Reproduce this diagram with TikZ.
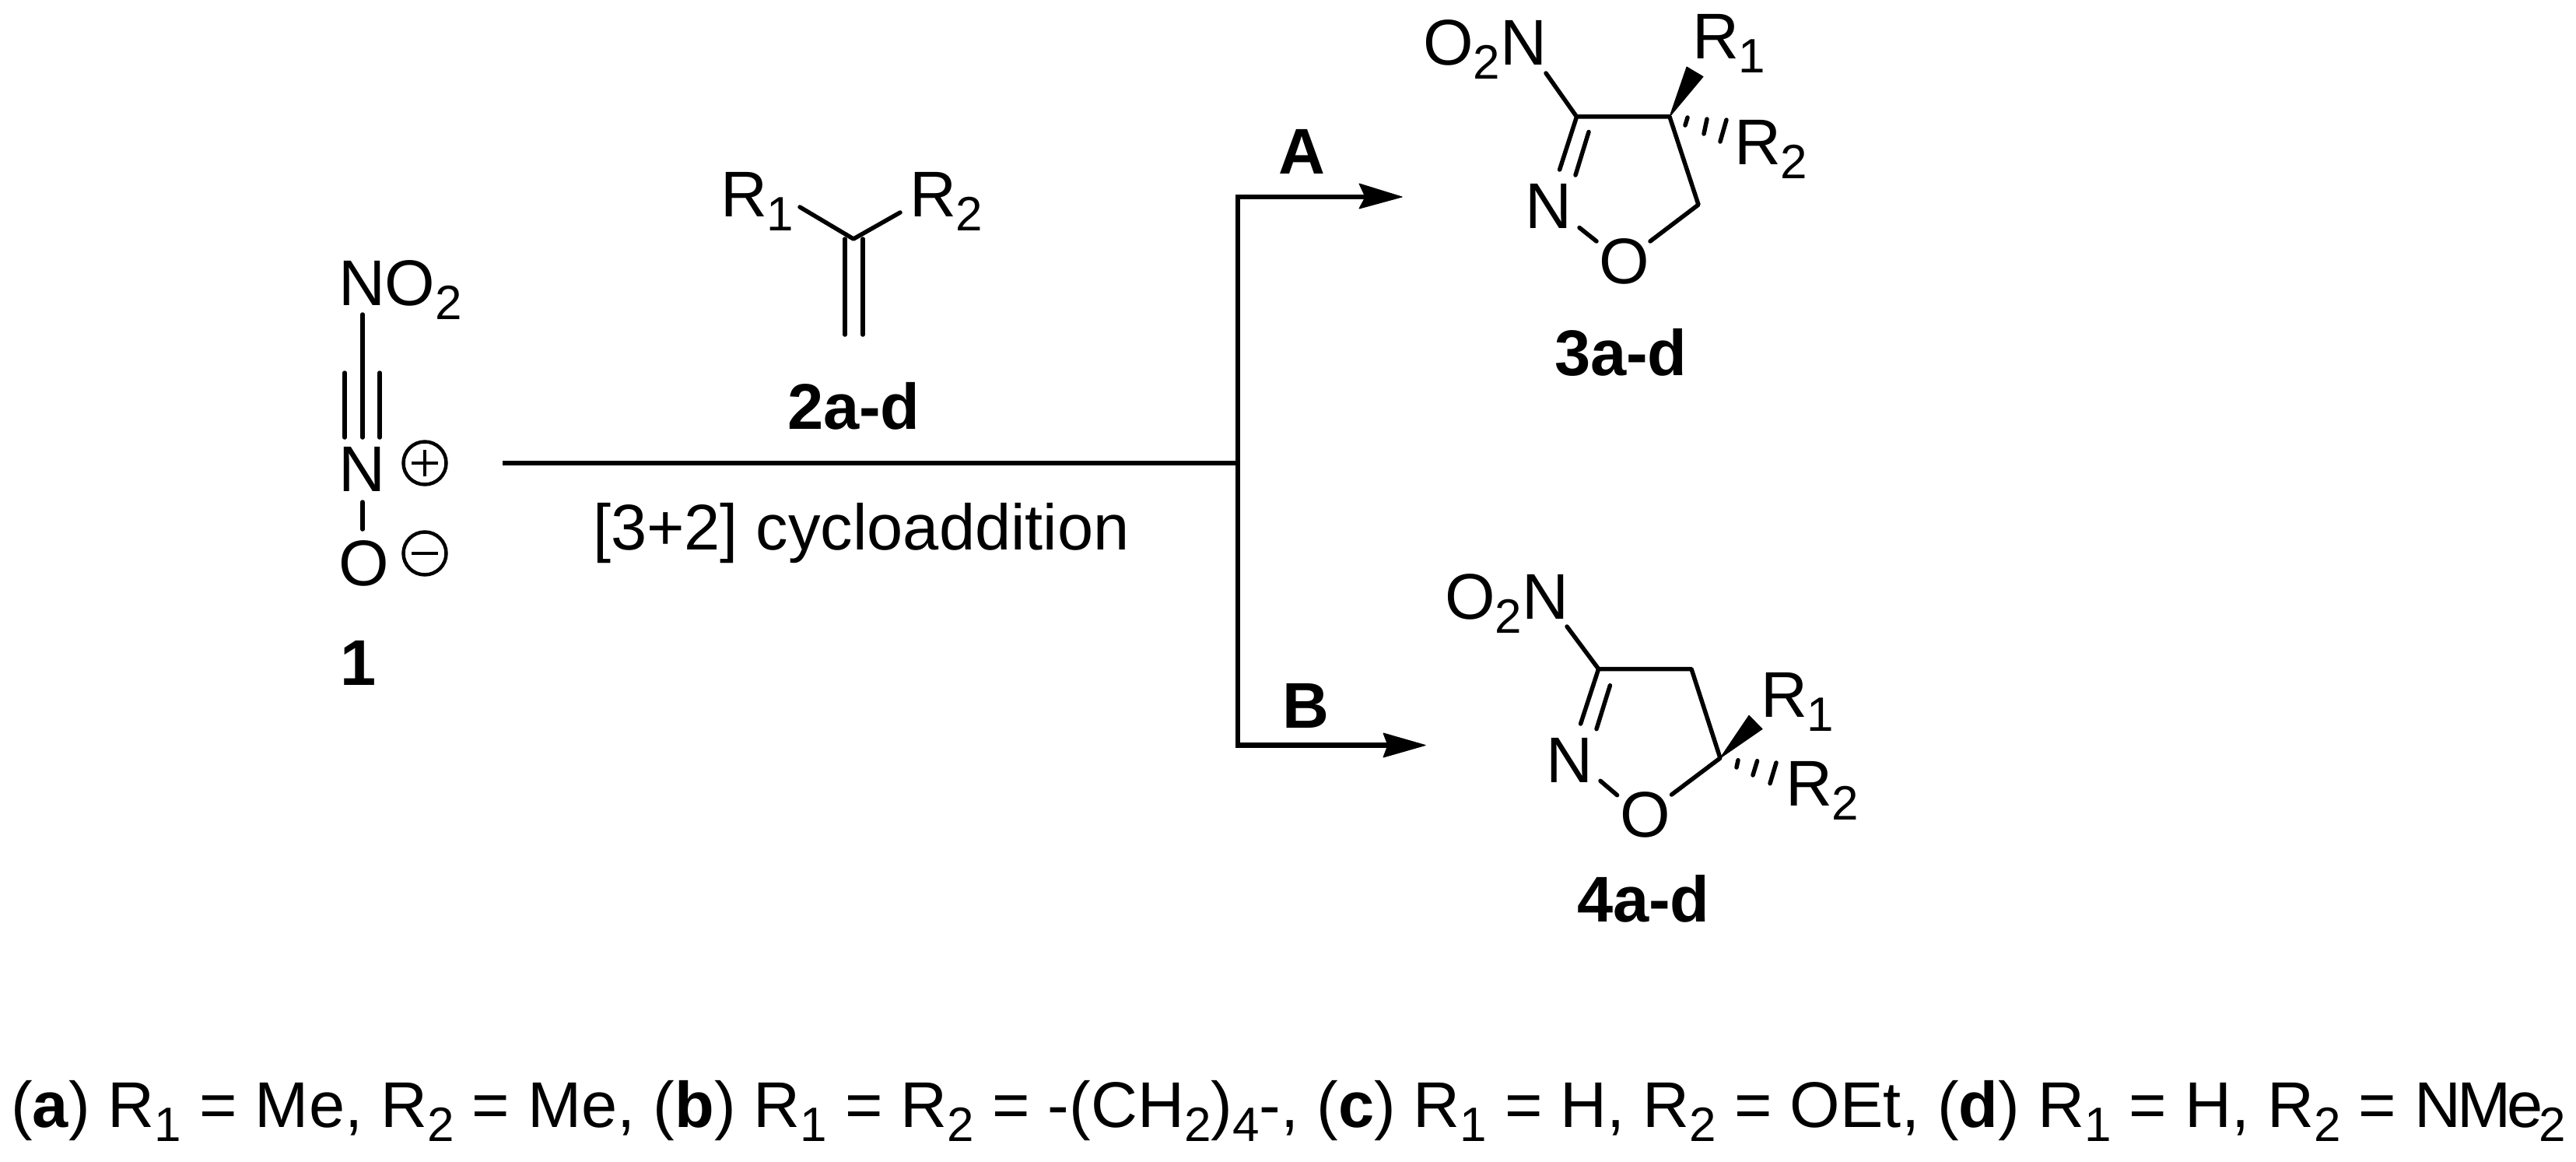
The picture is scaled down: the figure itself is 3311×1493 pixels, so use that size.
\documentclass[tikz,border=0pt]{standalone}
\usepackage{fontspec}
\setmainfont{Liberation Sans}
\newcommand{\bsub}[1]{\raisebox{-18pt}{\fontsize{62}{62}\selectfont #1}}
\tikzset{
  txt/.style={anchor=base west,inner sep=0pt,outer sep=0pt,font=\fontsize{83}{83}\selectfont},
  boldtxt/.style={txt,font=\fontsize{83}{83}\selectfont\bfseries},
  bond/.style={line width=5.5pt,line cap=round,line join=round,black},
  rule/.style={line width=6.5pt,line cap=butt,line join=miter,black},
  head/.style={fill=black,draw=black,line width=1pt,line join=round},
  charge/.style={circle,draw=black,line width=4.5pt,minimum size=55pt,inner sep=0pt,outer sep=0pt},
  chargemark/.style={line width=4.5pt,black}
}
\begin{document}
\begin{tikzpicture}[x=1pt,y=-1pt]
\useasboundingbox (0,0) rectangle (3311,1493);
% ---- compound 1
\node[txt] (no2a) at (435,392) {NO\bsub{2}};
\node[txt] (np) at (435,631) {N};
\node[txt] (om) at (435,752) {O};
\node[boldtxt] (one) at (437,880) {1};
\node[charge] (plus) at (546,595) {};
\node[charge] (minus) at (546,711) {};
\draw[chargemark] ([xshift=-17pt]plus.center) -- ([xshift=17pt]plus.center);
\draw[chargemark] ([yshift=-17pt]plus.center) -- ([yshift=17pt]plus.center);
\draw[chargemark] ([xshift=-17pt]minus.center) -- ([xshift=17pt]minus.center);
\coordinate (ca) at (466,404); \coordinate (cb) at (466,562);
\coordinate (la) at (443,479); \coordinate (lb) at (443,562);
\coordinate (ra) at (488,479); \coordinate (rb) at (488,562);
\coordinate (noa) at (466,645); \coordinate (nob) at (466,680);
\draw[bond] (ca) -- (cb);
\draw[bond] (la) -- (lb);
\draw[bond] (ra) -- (rb);
\draw[bond] (noa) -- (nob);
% ---- compound 2
\node[txt] (r1a) at (926,278) {R\bsub{1}};
\node[txt] (r2a) at (1169,278) {R\bsub{2}};
\node[boldtxt] (twoad) at (1012,551) {2a-d};
\node[txt] (cyclo) at (762,706) {[3+2] cycloaddition};
\coordinate (tc) at (1097,307);
\coordinate (ta) at (1028,266); \coordinate (tb) at (1157,273);
\coordinate (dla) at (1086,307); \coordinate (dlb) at (1086,430);
\coordinate (dra) at (1109,307); \coordinate (drb) at (1109,430);
\draw[bond] (ta) -- (tc) -- (tb);
\draw[bond] (dla) -- (dlb);
\draw[bond] (dra) -- (drb);
% ---- reaction lines
\coordinate (start) at (646,595);
\coordinate (fork) at (1591,595);
\coordinate (forka) at (1591,253);
\coordinate (forkb) at (1591,957.5);
\coordinate (enda) at (1756,253);
\coordinate (endb) at (1784,957.5);
\draw[rule] (start) -- (fork);
\draw[rule] (enda) -- (forka) -- (forkb) -- (endb);
\coordinate (tipa) at (1802,253);
\fill[head] (tipa) -- (1747,236) -- (1755,253) -- (1747,268) -- cycle;
\coordinate (tipb) at (1832,957.5);
\fill[head] (tipb) -- (1778,942) -- (1784,957.5) -- (1778,973) -- cycle;
\node[boldtxt] (lA) at (1643,223) {A};
\node[boldtxt] (lB) at (1648,935) {B};
% ---- compound 3
\node[txt] (o2n3) at (1829,83.5) {O\bsub{2}N};
\node[txt] (r13) at (2175,76) {R\bsub{1}};
\node[txt] (r23) at (2229,211) {R\bsub{2}};
\node[txt] (n3) at (1960,293.5) {N};
\node[txt] (o3) at (2055,364) {O};
\node[boldtxt] (l3) at (1998,482) {3a-d};
\coordinate (c33) at (2026.5,150); \coordinate (c34) at (2146,150); \coordinate (c35) at (2183,263);
\coordinate (x3a) at (1987,94);
\coordinate (x3b) at (2004.6,218);
\coordinate (x3c) at (2042,169.5); \coordinate (x3d) at (2025,225);
\coordinate (x3e) at (2121,310);
\coordinate (x3f) at (2030,292.5); \coordinate (x3g) at (2052,310);
\draw[bond] (x3a) -- (c33) -- (x3b);
\draw[bond] (c33) -- (c34) -- (c35) -- (x3e);
\draw[bond] (x3c) -- (x3d);
\draw[bond] (x3f) -- (x3g);
\fill[head] (c34) -- (2168,86) -- (2189,98.5) -- cycle;
\draw[bond] (2169,151) -- (2166,161);
\draw[bond] (2194,153) -- (2190,172);
\draw[bond] (2219,154) -- (2211,182);
% ---- compound 4
\node[txt] (o2n4) at (1857,795) {O\bsub{2}N};
\node[txt] (r14) at (2263,921) {R\bsub{1}};
\node[txt] (r24) at (2295,1035) {R\bsub{2}};
\node[txt] (n4) at (1987,1005) {N};
\node[txt] (o4) at (2082,1075.5) {O};
\node[boldtxt] (l4) at (2027,1184) {4a-d};
\coordinate (c43) at (2054.6,859.5); \coordinate (c44) at (2174,859.5); \coordinate (c45) at (2211,974);
\coordinate (x4a) at (2014,805);
\coordinate (x4b) at (2031.6,930);
\coordinate (x4c) at (2069.4,880.7); \coordinate (x4d) at (2052,936.7);
\coordinate (x4e) at (2148.5,1021);
\coordinate (x4f) at (2057,1003.3); \coordinate (x4g) at (2078.6,1021.7);
\draw[bond] (x4a) -- (c43) -- (x4b);
\draw[bond] (c43) -- (c44) -- (c45) -- (x4e);
\draw[bond] (x4c) -- (x4d);
\draw[bond] (x4f) -- (x4g);
\fill[head] (c45) -- (2248,919.3) -- (2265,936.7) -- cycle;
\draw[bond] (2234,976.7) -- (2232,986);
\draw[bond] (2258.6,977.7) -- (2253,996);
\draw[bond] (2283,980) -- (2275,1006.7);
% ---- bottom line
\node[txt] (legend) at (14,1448) {(\textbf{a}) R\bsub{1} = Me, R\bsub{2} = Me, (\textbf{b}) R\bsub{1} = R\bsub{2} = -(CH\bsub{2})\bsub{4}-, (\textbf{c}) R\bsub{1} = H, R\bsub{2} = OEt, (\textbf{d}) R\bsub{1} = H, R\bsub{2} = N\kern-5pt M\kern-5pt e\kern-5pt \bsub{2}};
\end{tikzpicture}
\end{document}
